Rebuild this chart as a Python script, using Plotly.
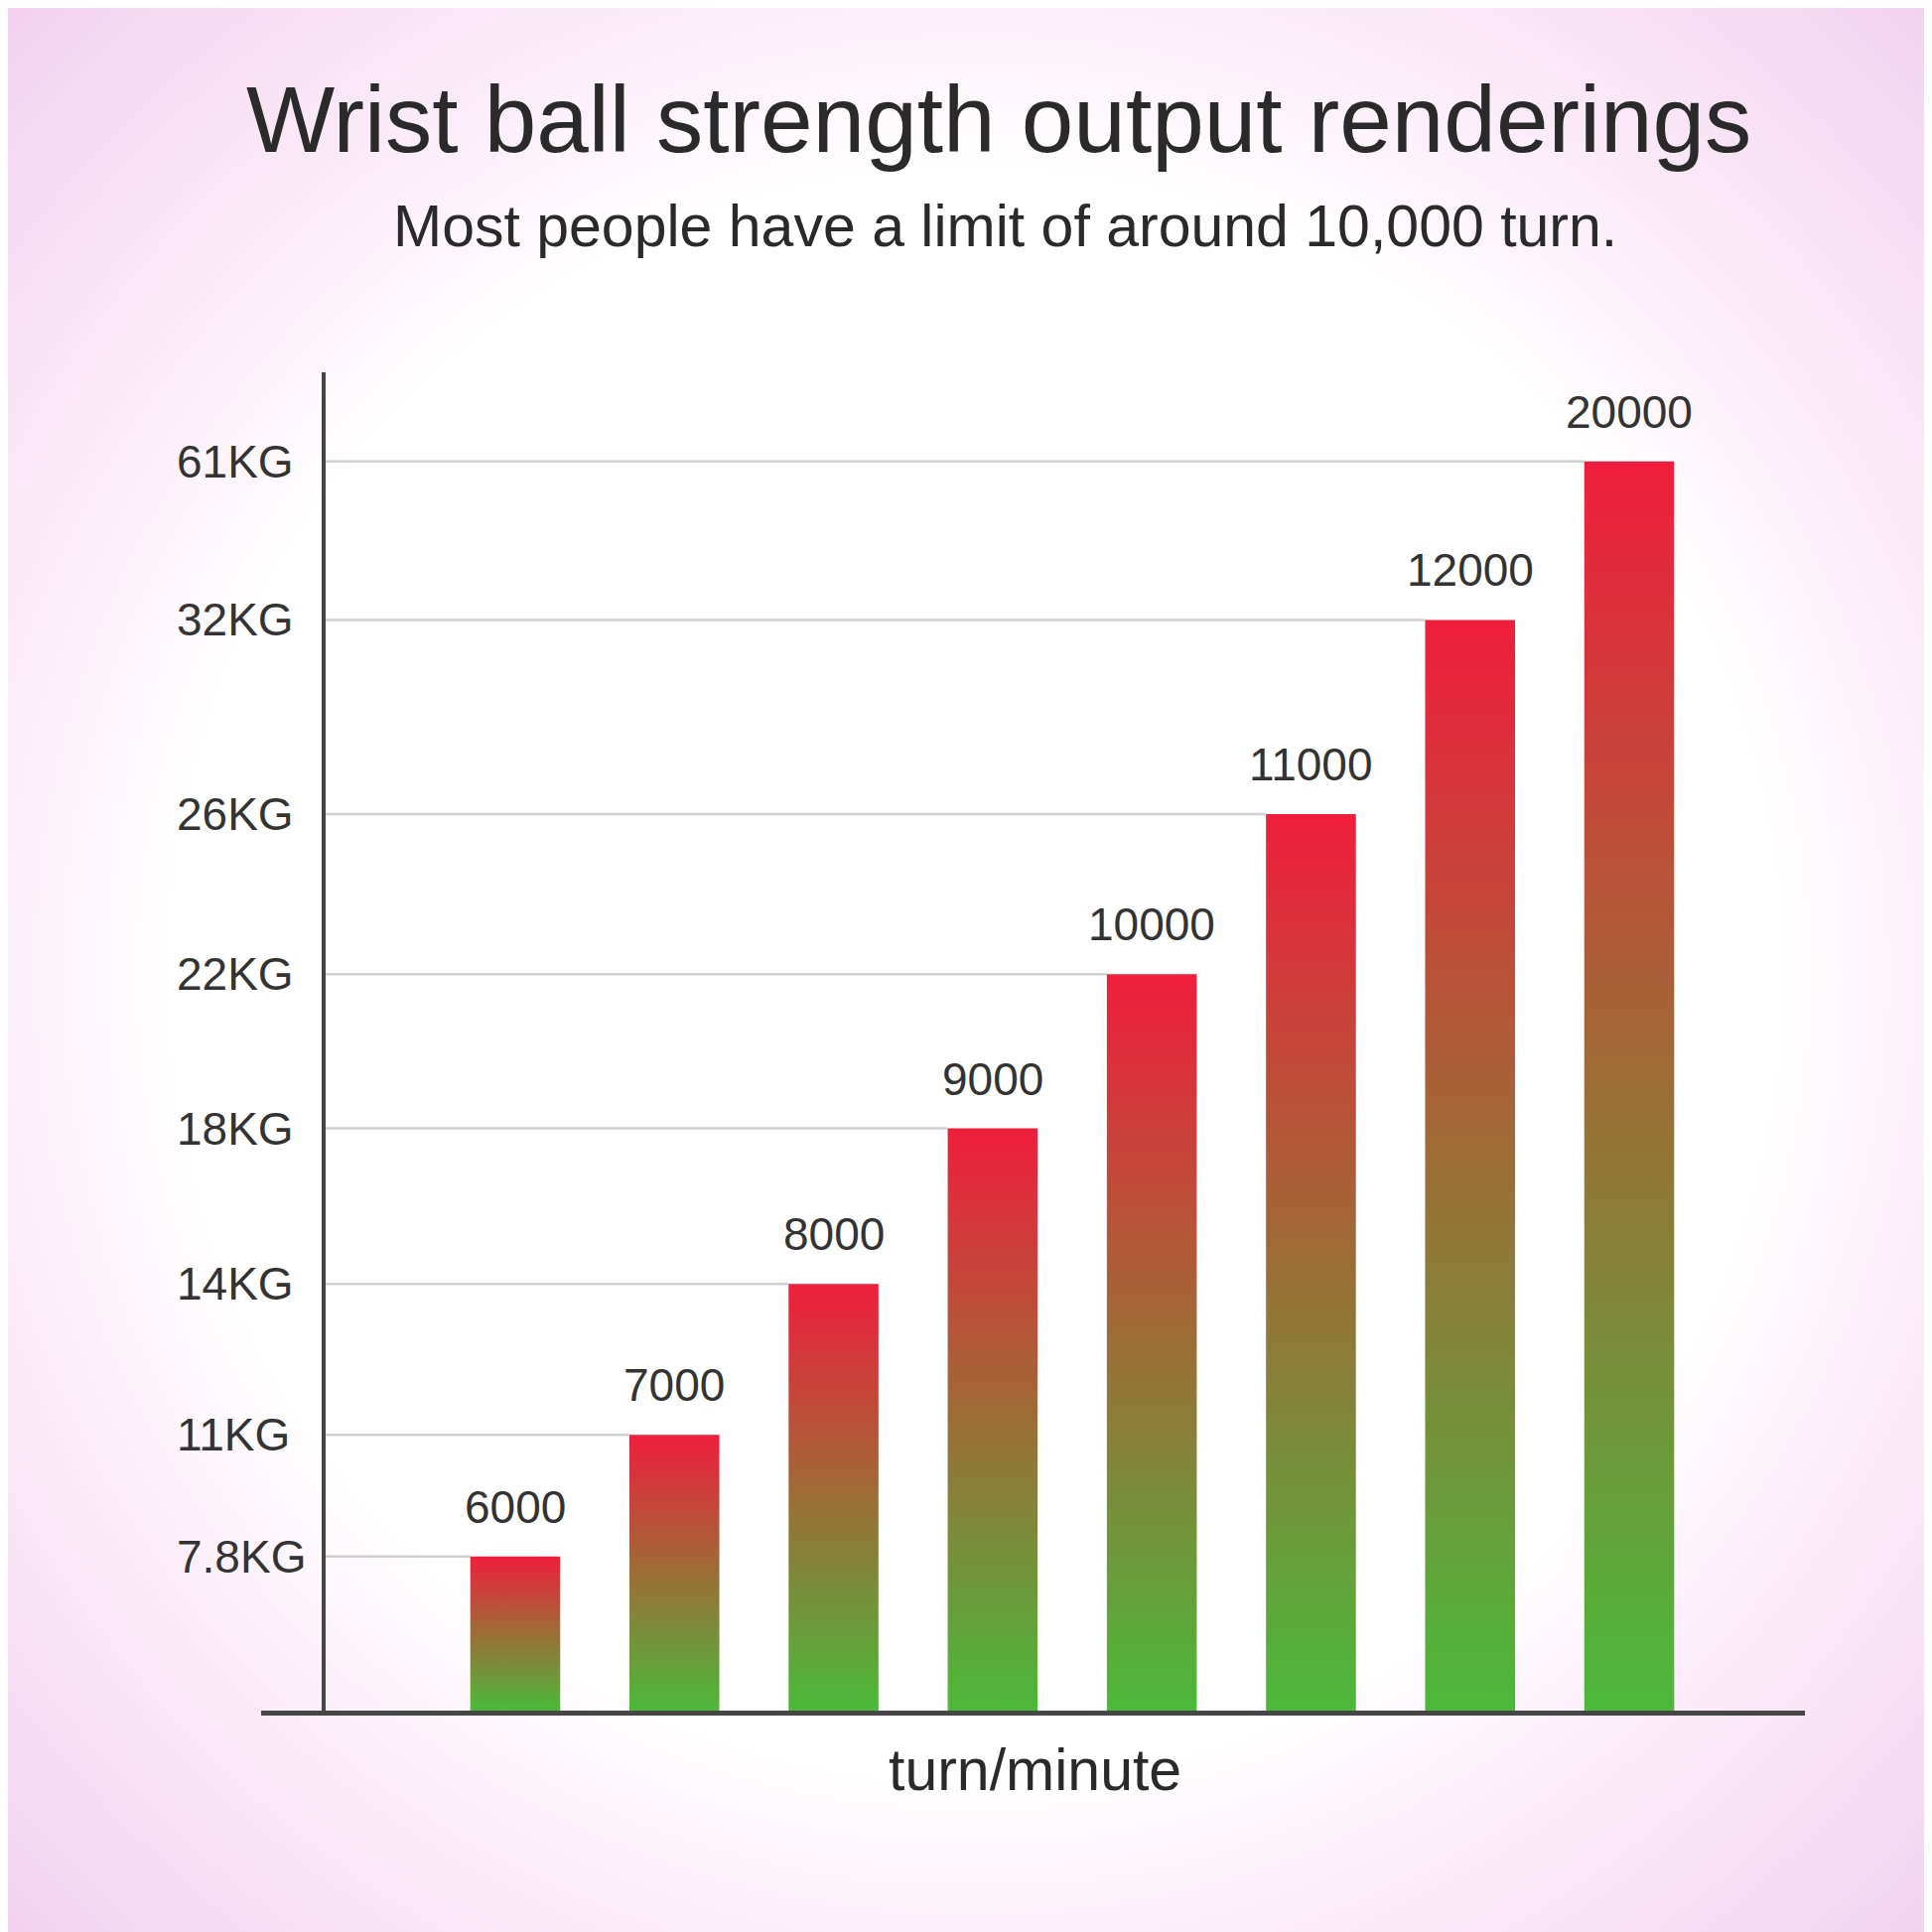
import base64

import plotly.graph_objects as go

# ---------------------------------------------------------------------------
# data
# ---------------------------------------------------------------------------
speed_labels = ["6000", "7000", "8000", "9000", "10000", "11000", "12000", "20000"]
# bar heights in the chart's own (non-linear) axis units
bar_levels = [1.00, 1.79, 2.77, 3.78, 4.78, 5.82, 7.08, 8.11]
strength_labels = ["7.8KG", "11KG", "14KG", "18KG", "22KG", "26KG", "32KG", "61KG"]

TITLE = "Wrist ball strength output renderings"
SUBTITLE = "Most people have a limit of around 10,000 turn."
X_TITLE = "turn/minute"

FONT = "Liberation Sans, Arial, sans-serif"
TEXT_COL = "#333333"
BAR_W = 0.565
X_RANGE = [-1.597, 8.104]
Y_RANGE = [0, 8.688]
Y_AXIS_AT = 0.0405  # paper position of the vertical axis line

# ---------------------------------------------------------------------------
fig = go.Figure()

# gridlines: from the axis to the left edge of the bar that reaches them
gx, gy = [], []
axis_x = X_RANGE[0] + Y_AXIS_AT * (X_RANGE[1] - X_RANGE[0])
for i, lv in enumerate(bar_levels):
    gx += [axis_x, i - BAR_W / 2, None]
    gy += [lv, lv, None]
fig.add_trace(go.Scatter(x=gx, y=gy, mode="lines",
                         line=dict(color="#d0d0d0", width=2.5),
                         hoverinfo="skip", showlegend=False))

# bars with a green -> red vertical gradient
for i, lv in enumerate(bar_levels):
    x0, x1 = i - BAR_W / 2, i + BAR_W / 2
    fig.add_trace(go.Scatter(
        x=[x0, x1, x1, x0, x0],
        y=[0, 0, lv, lv, 0],
        mode="lines",
        fill="toself",
        line=dict(width=0),
        fillgradient=dict(
            type="vertical",
            colorscale=[[0, "#4bb93a"], [0.5, "#9c6d37"], [1, "#ef1e3c"]],
        ),
        name=speed_labels[i],
        showlegend=False,
    ))

annotations = []
# value labels above the bars
for i, lv in enumerate(bar_levels):
    annotations.append(dict(
        x=i, y=lv, xref="x", yref="y", text=speed_labels[i],
        showarrow=False, yanchor="bottom", yshift=22,
        font=dict(family=FONT, size=46, color=TEXT_COL),
    ))
# left aligned y labels
for lv, lab in zip(bar_levels, strength_labels):
    annotations.append(dict(
        x=-0.056, y=lv, xref="paper", yref="y", text=lab,
        showarrow=False, xanchor="left", yanchor="middle",
        font=dict(family=FONT, size=46, color=TEXT_COL),
    ))
annotations += [
    dict(x=0.478, y=1.189, xref="paper", yref="paper", text=TITLE,
         showarrow=False, xanchor="center", yanchor="middle",
         font=dict(family=FONT, size=94.5, color="#2a2a2a")),
    dict(x=0.482, y=1.109, xref="paper", yref="paper", text=SUBTITLE,
         showarrow=False, xanchor="center", yanchor="middle",
         font=dict(family=FONT, size=59, color="#2a2a2a")),
    dict(x=0.501, y=-0.0445, xref="paper", yref="paper", text=X_TITLE,
         showarrow=False, xanchor="center", yanchor="middle",
         font=dict(family=FONT, size=59, color="#2a2a2a")),
]

# soft pink vignette behind everything
bg_svg = (
    '<svg xmlns="http://www.w3.org/2000/svg" width="100" height="100" '
    'viewBox="0 0 100 100" preserveAspectRatio="none">'
    '<defs><radialGradient id="g" cx="50%" cy="50%" r="71%">'
    '<stop offset="0" stop-color="#ffffff"/>'
    '<stop offset="0.58" stop-color="#ffffff"/>'
    '<stop offset="0.7" stop-color="#fcf0fa"/>'
    '<stop offset="1" stop-color="#f3d0ee"/>'
    '</radialGradient></defs>'
    '<rect width="100" height="100" fill="url(#g)"/></svg>'
)
bg_src = "data:image/svg+xml;base64," + base64.b64encode(bg_svg.encode()).decode()

# the page body adds an 8px offset, so the plot is pulled up/left by that much
W = H = 1946
M = dict(l=255, r=136, t=367, b=231)
pw = W - M["l"] - M["r"]
ph = H - M["t"] - M["b"]

fig.update_layout(
    width=W,
    height=H,
    margin=dict(l=M["l"], r=M["r"], t=M["t"], b=M["b"], pad=0),
    paper_bgcolor="#ffffff",
    plot_bgcolor="rgba(0,0,0,0)",
    showlegend=False,
    annotations=annotations,
    images=[dict(
        source=bg_src, xref="paper", yref="paper",
        x=-M["l"] / pw, y=1 + M["t"] / ph,
        sizex=W / pw, sizey=H / ph,
        xanchor="left", yanchor="top", sizing="stretch", layer="below",
    )],
    xaxis=dict(range=X_RANGE, showgrid=False, zeroline=False,
               showticklabels=False, ticks="",
               showline=True, linecolor="#464646", linewidth=4.5),
    yaxis=dict(range=Y_RANGE, showgrid=False, zeroline=False,
               showticklabels=False, ticks="", anchor="free",
               position=Y_AXIS_AT,
               showline=True, linecolor="#464646", linewidth=4),
)

fig.write_html("out.html")
